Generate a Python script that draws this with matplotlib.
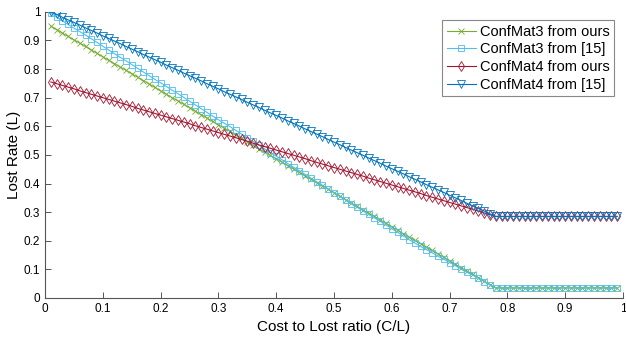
import numpy as np
import matplotlib
matplotlib.use('Agg')
from matplotlib import pyplot as plt

plt.rcParams['font.family'] = ['Liberation Sans', 'DejaVu Sans']

# cost to lost ratio, sampled every 0.01
ratio = np.round(np.arange(1, 100) / 100, 2)

confmat3_ours = [
    0.950, 0.938, 0.926, 0.914, 0.902, 0.891, 0.879, 0.867, 0.855, 0.843,
    0.831, 0.819, 0.807, 0.796, 0.784, 0.772, 0.760, 0.748, 0.736, 0.724,
    0.712, 0.700, 0.689, 0.677, 0.665, 0.653, 0.641, 0.629, 0.617, 0.605,
    0.594, 0.582, 0.570, 0.558, 0.546, 0.534, 0.522, 0.510, 0.498, 0.487,
    0.475, 0.463, 0.451, 0.439, 0.427, 0.415, 0.403, 0.392, 0.380, 0.368,
    0.356, 0.344, 0.332, 0.320, 0.308, 0.296, 0.285, 0.273, 0.261, 0.249,
    0.237, 0.225, 0.213, 0.201, 0.190, 0.178, 0.166, 0.154, 0.142, 0.130,
    0.118, 0.106, 0.094, 0.083, 0.071, 0.059, 0.047, 0.035,
    0.035, 0.035, 0.035, 0.035, 0.035, 0.035, 0.035, 0.035, 0.035, 0.035, 0.035,
    0.035, 0.035, 0.035, 0.035, 0.035, 0.035, 0.035, 0.035, 0.035, 0.035,
]

confmat3_ref = [
    0.995, 0.982, 0.969, 0.956, 0.943, 0.931, 0.919, 0.906, 0.893, 0.880,
    0.867, 0.854, 0.841, 0.829, 0.816, 0.803, 0.790, 0.777, 0.764, 0.752,
    0.739, 0.726, 0.714, 0.701, 0.688, 0.675, 0.662, 0.649, 0.636, 0.623,
    0.611, 0.599, 0.586, 0.573, 0.560, 0.547, 0.534, 0.521, 0.508, 0.496,
    0.483, 0.470, 0.457, 0.445, 0.432, 0.419, 0.406, 0.394, 0.381, 0.368,
    0.355, 0.343, 0.330, 0.317, 0.305, 0.292, 0.280, 0.268, 0.255, 0.242,
    0.230, 0.217, 0.204, 0.192, 0.180, 0.169, 0.158, 0.146, 0.135, 0.124,
    0.113, 0.101, 0.090, 0.080, 0.069, 0.057, 0.046, 0.035,
    0.035, 0.035, 0.035, 0.035, 0.035, 0.035, 0.035, 0.035, 0.035, 0.035, 0.035,
    0.035, 0.035, 0.035, 0.035, 0.035, 0.035, 0.035, 0.035, 0.035, 0.035,
]

confmat4_ours = [
    0.755, 0.749, 0.743, 0.737, 0.731, 0.724, 0.718, 0.712, 0.706, 0.700,
    0.694, 0.688, 0.682, 0.676, 0.670, 0.663, 0.657, 0.651, 0.645, 0.639,
    0.633, 0.627, 0.621, 0.615, 0.609, 0.602, 0.596, 0.590, 0.584, 0.578,
    0.572, 0.566, 0.560, 0.554, 0.548, 0.541, 0.535, 0.529, 0.523, 0.517,
    0.511, 0.505, 0.499, 0.493, 0.487, 0.480, 0.474, 0.468, 0.462, 0.456,
    0.450, 0.444, 0.438, 0.432, 0.426, 0.419, 0.413, 0.407, 0.401, 0.395,
    0.389, 0.383, 0.377, 0.371, 0.365, 0.358, 0.352, 0.346, 0.340, 0.334,
    0.328, 0.322, 0.316, 0.310, 0.304, 0.297, 0.291, 0.285,
    0.285, 0.285, 0.285, 0.285, 0.285, 0.285, 0.285, 0.285, 0.285, 0.285, 0.285,
    0.285, 0.285, 0.285, 0.285, 0.285, 0.285, 0.285, 0.285, 0.285, 0.285,
]

confmat4_ref = [
    1.000, 0.991, 0.981, 0.972, 0.963, 0.954, 0.944, 0.935, 0.926, 0.916,
    0.907, 0.898, 0.889, 0.879, 0.870, 0.861, 0.851, 0.842, 0.833, 0.824,
    0.814, 0.805, 0.796, 0.786, 0.777, 0.768, 0.759, 0.749, 0.740, 0.731,
    0.721, 0.712, 0.703, 0.694, 0.684, 0.675, 0.666, 0.656, 0.647, 0.638,
    0.629, 0.619, 0.610, 0.601, 0.591, 0.582, 0.573, 0.564, 0.554, 0.545,
    0.536, 0.526, 0.517, 0.508, 0.499, 0.489, 0.480, 0.471, 0.461, 0.452,
    0.443, 0.434, 0.424, 0.415, 0.406, 0.396, 0.387, 0.378, 0.369, 0.359,
    0.350, 0.341, 0.331, 0.322, 0.313, 0.304, 0.294, 0.285,
    0.285, 0.285, 0.285, 0.285, 0.285, 0.285, 0.285, 0.285, 0.285, 0.285, 0.285,
    0.285, 0.285, 0.285, 0.285, 0.285, 0.285, 0.285, 0.285, 0.285, 0.285,
]

labels = ['ConfMat3 from ours', 'ConfMat3 from [15]', 'ConfMat4 from ours', 'ConfMat4 from [15]']
ticks = [0, 0.1, 0.2, 0.3, 0.4, 0.5, 0.6, 0.7, 0.8, 0.9, 1]
tick_labels = ['0', '0.1', '0.2', '0.3', '0.4', '0.5', '0.6', '0.7', '0.8', '0.9', '1']

fig = plt.figure(figsize=(6.26, 3.39), dpi=100)
ax = fig.add_axes([0.072, 0.121, 0.923, 0.844])

ax.plot(ratio, confmat3_ours, color='#77AC30', marker='x', markersize=4.5, lw=0.8, mew=0.6, label=labels[0])
ax.plot(ratio, confmat3_ref, color='#4DBEEE', marker='s', markersize=5, lw=0.8, mew=0.6, mfc='none', label=labels[1])
ax.plot(ratio, confmat4_ours, color='#A2142F', marker='d', markersize=5.5, lw=0.8, mew=0.6, mfc='none', label=labels[2])
ax.plot(ratio, confmat4_ref, color='#0072BD', marker='v', markersize=5.5, lw=0.8, mew=0.6, mfc='none', label=labels[3])

ax.set_xlim(0, 1)
ax.set_ylim(0, 1)
ax.set_xticks(ticks)
ax.set_xticklabels(tick_labels)
ax.set_yticks(ticks)
ax.set_yticklabels(tick_labels)
ax.tick_params(direction='in', length=4, labelsize=8.5, color='#555555', width=0.7)
for s in ['top', 'right']:
    ax.spines[s].set_visible(False)
for s in ['left', 'bottom']:
    ax.spines[s].set_color('#555555')
    ax.spines[s].set_linewidth(0.8)

ax.set_xlabel('Cost to Lost ratio (C/L)', fontsize=11)
ax.set_ylabel('Lost Rate (L)', fontsize=11, labelpad=2)

leg = ax.legend(loc='upper right', bbox_to_anchor=(0.985, 0.97), fontsize=10.5, fancybox=False,
                edgecolor='#888888', framealpha=1, borderpad=0.3, labelspacing=0.25,
                handlelength=2.0, handletextpad=0.3, borderaxespad=0)
leg.get_frame().set_linewidth(0.8)

fig.savefig('out.png', dpi=100)
